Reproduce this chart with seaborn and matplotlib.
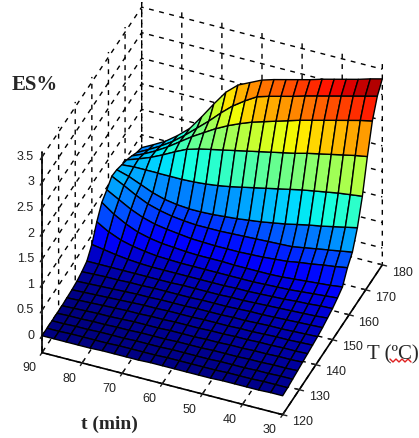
import numpy as np
import matplotlib
matplotlib.use("Agg")
import matplotlib.pyplot as plt
import seaborn as sns
from matplotlib.lines import Line2D

T_vals = [120, 123, 126, 129, 132, 135, 138, 141, 144, 147, 150, 153, 156, 159, 162, 165, 168, 171, 174, 177, 180]
t_vals = [90, 87, 84, 81, 78, 75, 72, 69, 66, 63, 60, 57, 54, 51, 48, 45, 42, 39, 36, 33, 30]

# ES%, one row per T, t going from 90 to 30
es_120 = [.00, .00, .00, .00, .00, .01, .01, .01, .01, .02, .02, .02, .02, .02, .02, .03, .03, .03, .03, .04, .04]
es_123 = [.00, .00, .01, .01, .01, .01, .02, .02, .02, .02, .03, .03, .03, .03, .03, .04, .04, .04, .05, .05, .05]
es_126 = [.00, .00, .01, .01, .02, .02, .02, .03, .03, .03, .04, .04, .04, .04, .05, .05, .05, .06, .06, .07, .07]
es_129 = [.00, .01, .01, .02, .02, .03, .03, .04, .04, .04, .05, .05, .05, .06, .06, .06, .07, .07, .08, .08, .09]
es_132 = [.00, .01, .02, .03, .03, .04, .05, .05, .05, .06, .06, .06, .07, .07, .08, .08, .09, .09, .10, .10, .11]
es_135 = [.01, .02, .03, .04, .05, .06, .06, .07, .07, .08, .08, .08, .09, .09, .10, .10, .11, .11, .12, .12, .13]
es_138 = [.02, .03, .04, .05, .06, .07, .08, .08, .09, .09, .09, .10, .10, .10, .11, .11, .12, .13, .13, .14, .15]
es_141 = [.04, .05, .06, .07, .08, .09, .09, .10, .10, .10, .11, .11, .11, .12, .12, .13, .14, .14, .15, .16, .17]
es_144 = [.08, .09, .10, .10, .11, .11, .12, .12, .12, .12, .13, .13, .13, .14, .15, .15, .16, .17, .18, .19, .20]
es_147 = [.14, .14, .14, .14, .14, .14, .14, .14, .15, .15, .15, .15, .16, .16, .17, .18, .19, .20, .21, .22, .24]
es_150 = [.32, .28, .24, .21, .19, .18, .18, .18, .18, .18, .18, .18, .19, .19, .20, .21, .22, .24, .25, .27, .28]
es_153 = [.62, .48, .38, .32, .28, .25, .24, .23, .23, .23, .23, .23, .23, .23, .24, .25, .26, .28, .30, .32, .34]
es_156 = [.85, .68, .55, .45, .39, .35, .33, .31, .30, .30, .30, .29, .29, .29, .29, .30, .32, .34, .36, .38, .41]
es_159 = [.95, .82, .69, .59, .52, .48, .45, .42, .41, .40, .40, .40, .41, .42, .44, .46, .50, .53, .57, .60, .64]
es_162 = [1.07, .95, .82, .71, .64, .59, .56, .54, .54, .54, .55, .56, .57, .58, .59, .60, .64, .68, .72, .76, .80]
es_165 = [1.05, .98, .88, .78, .71, .67, .65, .65, .66, .68, .70, .73, .76, .80, .84, .89, .94, .98, 1.03, 1.08, 1.13]
es_168 = [1.00, 1.02, 1.02, 1.02, 1.02, 1.02, 1.03, 1.05, 1.08, 1.12, 1.17, 1.22, 1.27, 1.32, 1.37, 1.42, 1.46, 1.50, 1.54, 1.57, 1.60]
es_171 = [.95, 1.03, 1.12, 1.23, 1.35, 1.46, 1.53, 1.58, 1.63, 1.68, 1.73, 1.78, 1.83, 1.88, 1.93, 1.99, 2.04, 2.09, 2.14, 2.19, 2.23]
es_174 = [.88, .98, 1.10, 1.24, 1.40, 1.56, 1.70, 1.84, 1.96, 2.06, 2.15, 2.22, 2.29, 2.36, 2.43, 2.49, 2.55, 2.61, 2.67, 2.73, 2.78]
es_177 = [.80, .92, 1.05, 1.20, 1.38, 1.58, 1.78, 2.00, 2.20, 2.36, 2.50, 2.57, 2.63, 2.69, 2.76, 2.82, 2.88, 2.94, 3.00, 3.06, 3.12]
es_180 = [.75, .87, 1.00, 1.17, 1.37, 1.66, 1.97, 2.26, 2.46, 2.57, 2.68, 2.75, 2.81, 2.87, 2.93, 3.00, 3.06, 3.12, 3.18, 3.25, 3.31]

es = np.array([es_120, es_123, es_126, es_129, es_132, es_135, es_138, es_141, es_144, es_147, es_150,
               es_153, es_156, es_159, es_162, es_165, es_168, es_171, es_174, es_177, es_180])

T_ticks = [120, 130, 140, 150, 160, 170, 180]
t_ticks = [30, 40, 50, 60, 70, 80, 90]
es_ticks = [0, 0.5, 1, 1.5, 2, 2.5, 3, 3.5]
es_labels = ["0", "0.5", "1", "1.5", "2", "2.5", "3", "3.5"]

sns.set_style("white", {"grid.color": "black", "grid.linestyle": (0, (3.5, 4)), "axes.edgecolor": "black"})
plt.rcParams["grid.linewidth"] = 1.0
plt.rcParams["font.family"] = ["Liberation Sans", "DejaVu Sans"]

W, H = 419, 438
fig = plt.figure(figsize=(W / 100, H / 100), dpi=100)
ax = fig.add_axes([-3 / W, 14.5 / H, 419 / W, 419 / H], projection="3d", proj_type="ortho")
ax.view_init(elev=38.5, azim=202.5)
ax.set_box_aspect((1, 1, 0.985), zoom=1.04)

X, Y = np.meshgrid(T_vals, t_vals, indexing="ij")
ax.plot_surface(X, Y, es, rstride=1, cstride=1, cmap="jet",
                vmin=0, vmax=3.33, edgecolor="black", linewidth=1.0, shade=False, antialiased=True)

ax.set_xlim(120, 180, view_margin=0)
ax.set_ylim(30, 90, view_margin=0)
ax.set_zlim(-0.33, 3.6, view_margin=0)
ax.set_xticks(T_ticks)
ax.set_yticks(t_ticks)
ax.set_zticks(es_ticks)
ax.set_xticklabels([""] * len(T_ticks))
ax.set_yticklabels([""] * len(t_ticks))
ax.set_zticklabels([""] * len(es_ticks))

for axis in (ax.xaxis, ax.yaxis, ax.zaxis):
    axis.pane.fill = False
    axis.pane.set_edgecolor("none")
    axis.line.set_linewidth(1.2)
    axis.line.set_color("black")
    axis._axinfo["tick"]["inward_factor"] = 0.22
    axis._axinfo["tick"]["outward_factor"] = 0.22
    axis._axinfo["tick"]["linewidth"] = {True: 1.0, False: 0.8}
ax.tick_params(colors="#222222")
ax.grid(True)

# labels are written by hand, the default spot is too far out
for T in T_ticks:
    ax.text(T - 0.9, 24.7, -0.33, str(T), fontsize=9, color="#222222", ha="center", va="center")
for t in t_ticks:
    ax.text(113.5, t + 0.5, -0.33, str(t), fontsize=9, color="#222222", ha="center", va="center")
for z, lab in zip(es_ticks, es_labels):
    ax.text(119.3, 91.7, z, lab, fontsize=9, color="#222222", ha="right", va="center")

fig.text(12 / W, 1 - 90 / H, "ES%", family="Liberation Serif", weight="bold", fontsize=15)
fig.text(81 / W, 1 - 429 / H, "t (min)", family="Liberation Serif", weight="bold", fontsize=14)
fig.text(367 / W, 1 - 359 / H, "T (ºC)", family="Liberation Serif", fontsize=15)

# red proofing squiggle under the unit
squig_x = [390, 393, 396, 399, 402, 405, 408, 411]
squig_y = [359, 362, 359, 362, 359, 362, 359, 362]
fig.add_artist(Line2D([v / W for v in squig_x], [1 - v / H for v in squig_y], color="#e02020", lw=1.0))

fig.savefig("out.png", dpi=100)
